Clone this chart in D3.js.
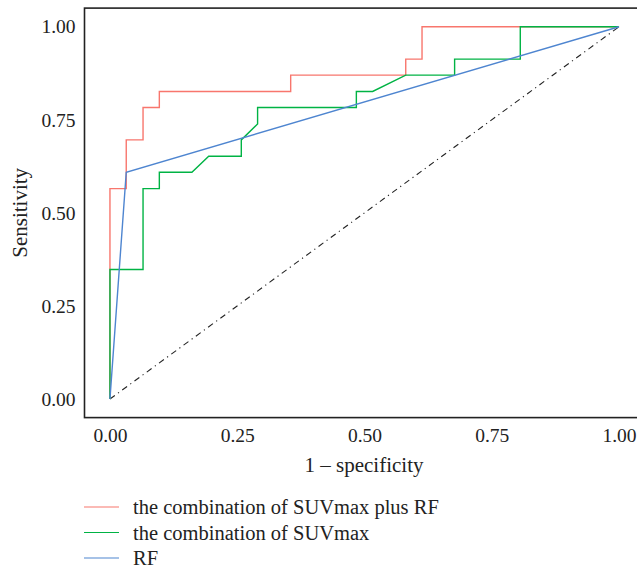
<!DOCTYPE html>
<html><head><meta charset="utf-8">
<script src="https://cdn.jsdelivr.net/npm/d3@7"></script>
<style>body{margin:0;background:#fff}svg{display:block}text{font-family:"Liberation Serif","DejaVu Serif",serif;fill:#222}</style>
</head><body>
<script>
const seriesNames = ["the combination of SUVmax plus RF", "the combination of SUVmax", "RF"];
const seriesColors = ["#F8766D", "#00B344", "#4E85D0"];
const comboFpr = [0,0,0.032,0.032,0.065,0.065,0.097,0.097,0.355,0.355,0.581,0.581,0.613,0.613,1];
const comboTpr = [0,0.565,0.565,0.696,0.696,0.783,0.783,0.826,0.826,0.870,0.870,0.913,0.913,1,1];
const suvFpr = [0,0,0.065,0.065,0.097,0.097,0.161,0.194,0.258,0.258,0.290,0.290,0.484,0.484,0.516,0.581,0.677,0.677,0.806,0.806,1];
const suvTpr = [0,0.348,0.348,0.565,0.565,0.609,0.609,0.652,0.652,0.696,0.739,0.783,0.783,0.826,0.826,0.870,0.870,0.913,0.913,1,1];
const rfFpr = [0,0.032,1];
const rfTpr = [0,0.609,1];
const diagFpr = [0,1];
const diagTpr = [0,1];
const tickValues = [0,0.25,0.5,0.75,1];
const tickLabels = ["0.00","0.25","0.50","0.75","1.00"];

const W=637,H=571;
const svg=d3.select("body").append("svg").attr("width",W).attr("height",H);
const x=d3.scaleLinear().domain([-0.05,1.05]).range([84.5,644.5]);
const y=d3.scaleLinear().domain([-0.05,1.05]).range([417.6,8.1]);

const line=d3.line().x(d=>x(d[0])).y(d=>y(d[1]));
svg.append("path").datum(d3.zip(diagFpr,diagTpr)).attr("d",line)
  .attr("fill","none").attr("stroke","#222").attr("stroke-width",1.1).attr("stroke-dasharray","6,4,1.2,4");

const series=[d3.zip(comboFpr,comboTpr), d3.zip(suvFpr,suvTpr), d3.zip(rfFpr,rfTpr)];
series.forEach((s,i)=>{
  svg.append("path").datum(s).attr("d",line).attr("fill","none")
    .attr("stroke",seriesColors[i]).attr("stroke-width",1.4);
});

svg.append("rect").attr("x",x(-0.05)).attr("y",y(1.05)).attr("width",x(1.05)-x(-0.05)).attr("height",y(-0.05)-y(1.05))
  .attr("fill","none").attr("stroke","#222").attr("stroke-width",1.6);

const xAxis=d3.axisBottom(x).tickValues(tickValues).tickFormat((d,i)=>tickLabels[i]).tickSize(0).tickPadding(0);
const gx=svg.append("g").attr("transform",`translate(0,${y(-0.05)})`).call(xAxis);
gx.select(".domain").remove();
gx.selectAll("text").attr("dy",null).attr("y",24).attr("font-size",19.5).attr("fill","#222").style("font-family","Liberation Serif");
const yAxis=d3.axisLeft(y).tickValues(tickValues).tickFormat((d,i)=>tickLabels[i]).tickSize(0).tickPadding(9);
const gy=svg.append("g").attr("transform",`translate(${x(-0.05)},0)`).call(yAxis);
gy.select(".domain").remove();
gy.selectAll("text").attr("font-size",19.5).attr("fill","#222").style("font-family","Liberation Serif");

svg.append("text").attr("x",364).attr("y",472).attr("text-anchor","middle").attr("font-size",21).text("1 – specificity");
svg.append("text").attr("transform",`translate(27,${y(0.5)}) rotate(-90)`).attr("text-anchor","middle").attr("font-size",21).text("Sensitivity");

const lg=svg.append("g");
seriesNames.forEach((n,i)=>{
  const yy=507+i*25.5;
  lg.append("line").attr("x1",84).attr("x2",119).attr("y1",yy).attr("y2",yy).attr("stroke",seriesColors[i]).attr("stroke-width",1.1);
  lg.append("text").attr("x",133).attr("y",yy).attr("dy","0.35em").attr("font-size",20.5).text(n);
});
</script>
</body></html>
